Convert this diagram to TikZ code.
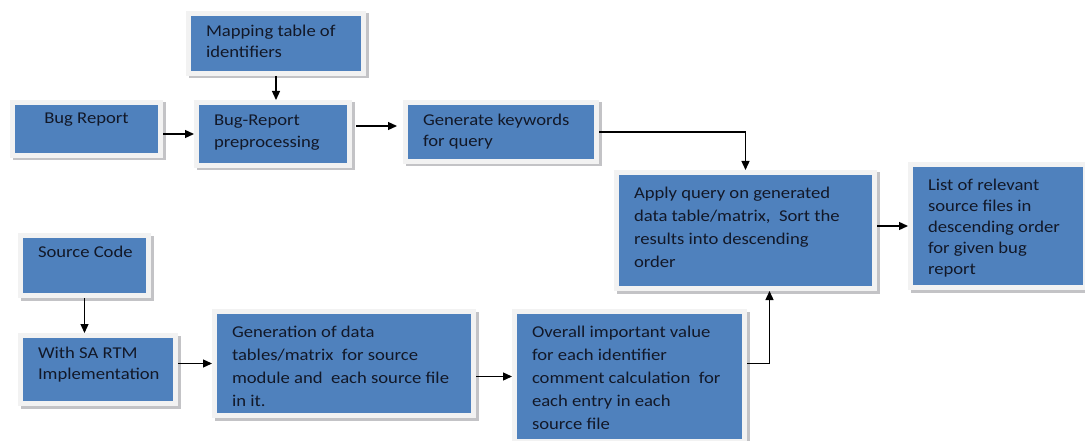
\documentclass[tikz,border=0pt]{standalone}
\usepackage{fontspec}
\setmainfont{Carlito}[FakeStretch=1.13]
\usetikzlibrary{arrows.meta}
\definecolor{boxblue}{RGB}{79,129,189}
\definecolor{framecol}{RGB}{242,242,242}
\definecolor{shadowcol}{RGB}{195,195,198}
\definecolor{txtcol}{RGB}{18,24,40}
\newcommand\bxtext[4]{\parbox[c][#2pt][t]{#1pt}{\vspace*{#3pt}\raggedright #4}}
\newcommand\fsz[1]{\fontsize{16.5pt}{#1pt}\selectfont}
\tikzset{
  blk/.style={rectangle, anchor=north west, inner xsep=15pt, inner ysep=0pt,
    outer sep=5pt, fill=boxblue, text=txtcol,
    preaction={draw=shadowcol, fill=shadowcol, line width=10pt,
      transform canvas={xshift=2.5pt, yshift=-2.5pt}},
    preaction={draw=framecol, line width=10pt}},
  arr/.style={draw=black, line width=1.3pt, -{Triangle[length=9pt,width=8pt]}}
}
\begin{document}
\begin{tikzpicture}[x=1pt,y=-1pt]
\fill[white] (0,0) rectangle (1085,441);
\useasboundingbox (0,0) rectangle (1085,441);

\node[blk, font=\fsz{21}] (map) at (186,11) {\bxtext{140}{55}{9}{Mapping table of\\identifiers}};
\node[blk, font=\fsz{21}] (br) at (10,100) {\bxtext{113}{48}{8}{\centering Bug Report}};
\node[blk, font=\fsz{22}] (pre) at (194,100) {\bxtext{118}{58}{9.5}{Bug-Report\\preprocessing}};
\node[blk, font=\fsz{21}] (gen) at (403,100) {\bxtext{156}{54}{9}{Generate keywords\\for query}};
\node[blk, font=\fsz{23}] (apply) at (614,170) {\bxtext{223}{111}{12}{Apply query on generated\\data table/matrix,\ \ Sort the\\results into descending\\order}};
\node[blk, font=\fsz{21}] (list) at (908,162) {\bxtext{140}{118}{12}{List of relevant\\source files in\\descending order\\for given bug\\report}};
\node[blk, font=\fsz{21}] (src) at (18,233) {\bxtext{93}{55}{8}{\mbox{Source Code}}};
\node[blk, font=\fsz{21}] (sa) at (18,333) {\bxtext{120}{63}{9}{With SA RTM\\Implementation}};
\node[blk, font=\fsz{23}] (gdt) at (212,309) {\bxtext{224}{99}{12}{Generation of data\\tables/matrix\ \ for source\\module and\ \ each source file\\in it.}};
\node[blk, font=\fsz{23}] (ov) at (512,309) {\bxtext{195}{125}{12}{Overall important value\\for each identifier\\comment calculation\ \ for\\each entry in each\\source file}};

\draw[arr] (map.south) -- (map.south |- pre.north);
\draw[arr] ([yshift=-5pt]br.east) -- ([yshift=-5pt]br.east -| pre.west);
\draw[arr, shorten <=4pt, shorten >=6pt] ([yshift=8pt]pre.east) -- ([yshift=8pt]pre.east -| gen.west);
\draw[arr] (gen.east) -| (apply.north);
\draw[arr] (list.west -| apply.east) -- (list.west);
\draw[arr] (src.south) -- (src.south |- sa.north);
\draw[arr] (sa.east |- gdt.west) -- (gdt.west);
\draw[arr] (gdt.east |- ov.west) -- (ov.west);
\draw[arr] ([yshift=13pt]ov.east) -| ([xshift=24pt]apply.south);
\end{tikzpicture}
\end{document}
